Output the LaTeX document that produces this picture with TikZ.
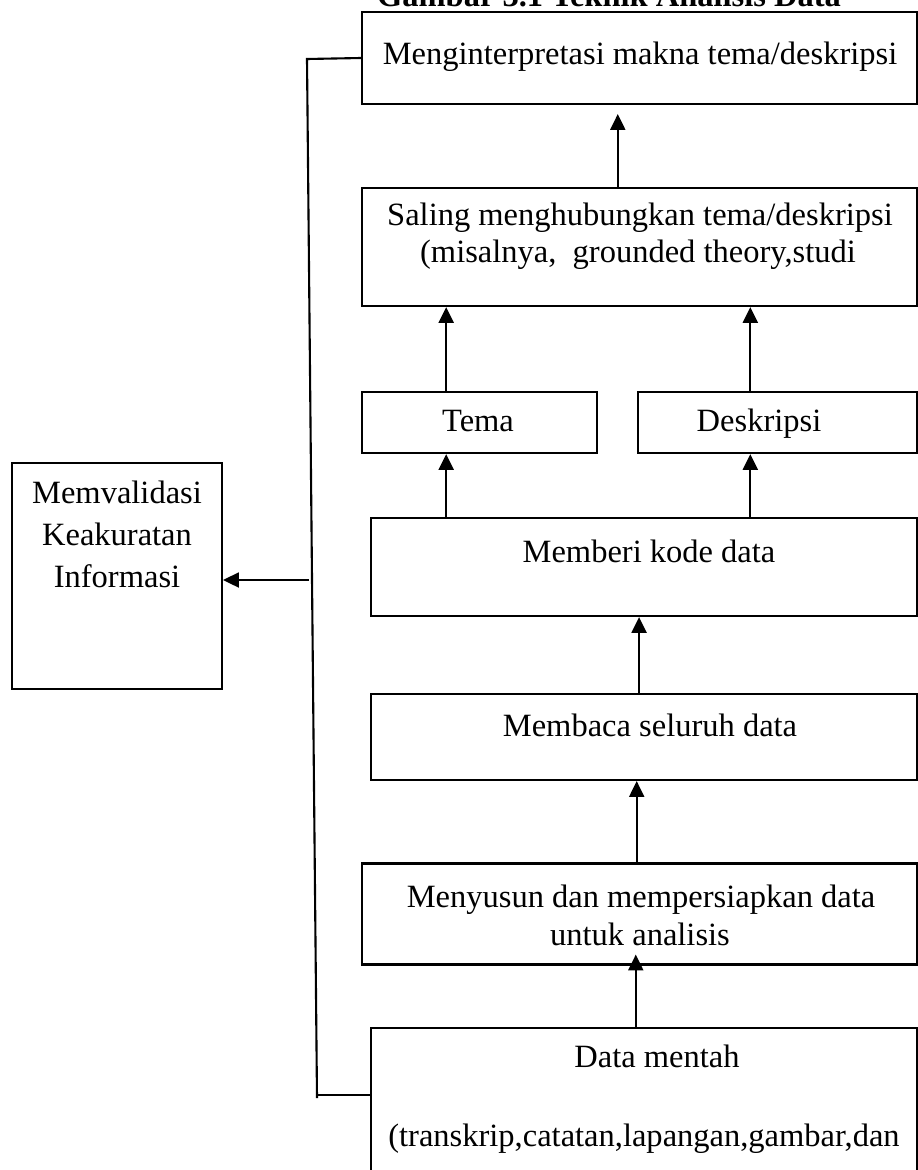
\documentclass[tikz,border=0pt]{standalone}
\usepackage{fontspec}
\setmainfont{Liberation Serif}
\usetikzlibrary{positioning, arrows.meta, calc}

\begin{document}
\begin{tikzpicture}[
  x=0.02cm, y=-0.02cm,
  box/.style={draw, rectangle, line width=1.2pt, inner sep=0pt},
  txt/.style={anchor=base, inner sep=0pt, font=\fontsize{18.5pt}{23pt}\selectfont},
  link/.style={line width=1.2pt},
  >={Triangle[length=9pt, width=8.5pt]}
]
  \useasboundingbox (0,0) rectangle (918,1170);

  % 0. Caption, cut off by the top edge
  \node[txt, font=\fontsize{18.5pt}{23pt}\selectfont\bfseries] (title) at (609,6) {Gambar 3.1 Teknik Analisis Data};

  % 1. Boxes of the main column
  \node[box, minimum width=11.1cm, minimum height=1.84cm] (interp) at (639.5,58) {};
  \node[box, minimum width=11.1cm, minimum height=2.36cm] (saling) at (639.5,247) {};
  \node[box, minimum width=4.7cm, minimum height=1.22cm] (tema) at (479.5,422.5) {};
  \node[box, minimum width=5.58cm, minimum height=1.22cm] (deskripsi) at (777.5,422.5) {};
  \node[box, minimum width=10.92cm, minimum height=1.96cm] (kode) at (644,567) {};
  \node[box, minimum width=10.92cm, minimum height=1.72cm] (baca) at (644,737) {};
  \node[box, minimum width=11.1cm, minimum height=2.02cm] (susun) at (639.5,914) {};
  \node[box, minimum width=10.92cm, minimum height=3.44cm] (mentah) at (644,1114) {};

  % 2. Side box
  \node[box, minimum width=4.2cm, minimum height=4.52cm] (validasi) at (117,576) {};

  % 3. Texts
  \node[txt] (interpT) at (640,64) {Menginterpretasi makna tema/deskripsi};
  \node[txt] (salingT1) at (640,225) {Saling menghubungkan tema/deskripsi};
  \node[txt] (salingT2) at (638,262) {(misalnya,\ \ grounded theory,studi};
  \node[txt] (temaT) at (478,431) {Tema};
  \node[txt] (deskripsiT) at (759,431) {Deskripsi};
  \node[txt] (kodeT) at (649,562) {Memberi kode data};
  \node[txt] (bacaT) at (650,736) {Membaca seluruh data};
  \node[txt] (susunT1) at (641,907) {Menyusun dan mempersiapkan data};
  \node[txt] (susunT2) at (640,945) {untuk analisis};
  \node[txt] (mentahT1) at (657,1067) {Data mentah};
  \node[txt] (mentahT2) at (644,1146) {(transkrip,catatan,lapangan,gambar,dan};
  \node[txt] (validasiT1) at (117,503) {Memvalidasi};
  \node[txt] (validasiT2) at (117,545) {Keakuratan};
  \node[txt] (validasiT3) at (117,587) {Informasi};

  % 4. Arrows up the column
  \coordinate (a1) at ($ (mentah.north west) !0.485! (mentah.north east) $);
  \draw[link, ->, shorten >=-0.22cm] (a1) -- (a1 |- susun.south);
  \coordinate (a2) at ($ (susun.north west) !0.495! (susun.north east) $);
  \draw[link, ->] (a2) -- (a2 |- baca.south);
  \coordinate (a3) at ($ (baca.north west) !0.491! (baca.north east) $);
  \draw[link, ->] (a3) -- (a3 |- kode.south);
  \coordinate (a4) at ($ (kode.north west) !0.139! (kode.north east) $);
  \draw[link, ->] (a4) -- (a4 |- tema.south);
  \coordinate (a5) at ($ (kode.north west) !0.694! (kode.north east) $);
  \draw[link, ->] (a5) -- (a5 |- deskripsi.south);
  \coordinate (a6) at (a4 |- tema.north);
  \draw[link, ->] (a6) -- (a6 |- saling.south);
  \coordinate (a7) at (a5 |- deskripsi.north);
  \draw[link, ->] (a7) -- (a7 |- saling.south);
  \coordinate (a8) at ($ (saling.north west) !0.461! (saling.north east) $);
  \draw[link, ->, shorten >=0.18cm] (a8) -- (a8 |- interp.south);

  % 5. Side line to the check box
  \coordinate (sTop) at (307,59);
  \coordinate (sBot) at (317,1098);
  \draw[link] (interp.west) -- (sTop) -- (sBot);
  \coordinate (sFoot) at (317,1095);
  \draw[link] (sFoot) -- (sFoot -| mentah.west);
  \coordinate (sArr) at (309,580);
  \draw[link, ->] (sArr) -- (sArr -| validasi.east);

\end{tikzpicture}
\end{document}
